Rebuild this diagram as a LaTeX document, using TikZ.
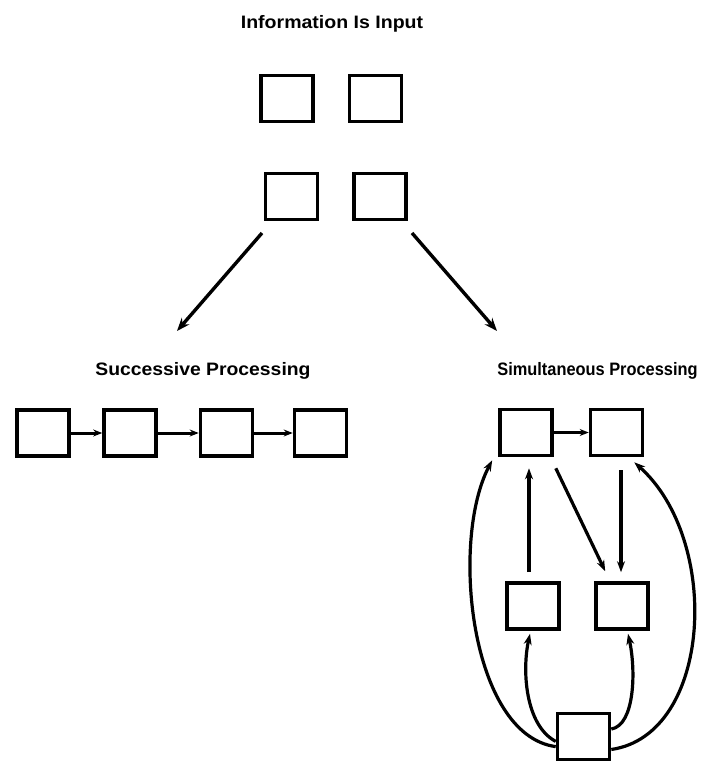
\documentclass[tikz,border=0pt]{standalone}
\usepackage{fontspec}
\usepackage{graphicx}
\setmainfont{Liberation Sans}
\usetikzlibrary{arrows.meta,calc}
\begin{document}
\begin{tikzpicture}[x=1pt,y=1pt,
  box/.style={draw,line width=3.6pt,minimum width=52pt,minimum height=46pt,inner sep=0pt},
  ttl/.style={font=\bfseries\fontsize{18}{20}\selectfont,inner sep=0pt},
  big/.style={line width=3.4pt,-{Stealth[length=13pt,width=10pt]}},
  mid/.style={line width=3.2pt,-{Stealth[length=11pt,width=8pt]}},
  sml/.style={line width=3pt,-{Stealth[length=9pt,width=7pt]}}]
\useasboundingbox (0,0) rectangle (701,-771);
% titles
\node[ttl] (tin) at (332,-24) {\scalebox{1.085}[1]{Information Is Input}};
\node[ttl] (tsu) at (203,-371) {\scalebox{1.075}[1]{Successive Processing}};
\node[ttl] (tsi) at (597.5,-371) {\scalebox{0.91}[1]{Simultaneous Processing}};
% input boxes
\node[box] (t1) at (287,-98.5) {};
\node[box] (t2) at (375.5,-98.5) {};
\node[box] (t3) at (291.5,-196.5) {};
\node[box] (t4) at (380,-196.5) {};
% successive
\node[box] (s1) at (43,-433) {};
\node[box] (s2) at (130,-433) {};
\node[box] (s3) at (226.5,-433) {};
\node[box] (s4) at (320.5,-433) {};
% simultaneous
\node[box] (A) at (526,-432.5) {};
\node[box] (B) at (616.5,-432.5) {};
\node[box] (C) at (533,-606) {};
\node[box] (D) at (622,-606) {};
\node[box] (E) at (583.5,-736.5) {};
% main arrows
\coordinate (ls) at (262,-233);
\coordinate (le) at (177,-331);
\coordinate (rs) at (412,-233);
\coordinate (re) at (497,-331);
\draw[big] (ls) -- (le);
\draw[big] (rs) -- (re);
% chain
\draw[sml] (s1.east) -- (s2.west);
\draw[sml] (s2.east) -- (s3.west);
\draw[sml] (s3.east) -- (s4.west);
% simultaneous arrows
\draw[sml] (A.east) -- (B.west);
\draw[mid] ([xshift=-4pt,yshift=9pt]C.north) -- ([xshift=3pt,yshift=-11pt]A.south);
\draw[mid] ([xshift=2pt,yshift=-11pt]A.south east) -- ([xshift=11pt,yshift=10pt]D.north west);
\draw[mid] ([xshift=4.5pt,yshift=-13pt]B.south) -- ([xshift=-1pt,yshift=9pt]D.north);
% curved arrows from E
\draw[mid] (E.200) .. controls (470,-735) and (450,-540) .. ([xshift=-6pt,yshift=-3pt]A.south west);
\draw[mid] (E.190) .. controls (525,-725) and (522,-670) .. ([xshift=-3pt,yshift=-3pt]C.south);
\draw[mid] (E.15) .. controls (635,-725) and (636,-670) .. ([xshift=6pt,yshift=-3pt]D.south);
\draw[mid] (E.-25) .. controls (712,-735) and (722,-540) .. ([xshift=-10pt,yshift=-5pt]B.south east);
\end{tikzpicture}
\end{document}
